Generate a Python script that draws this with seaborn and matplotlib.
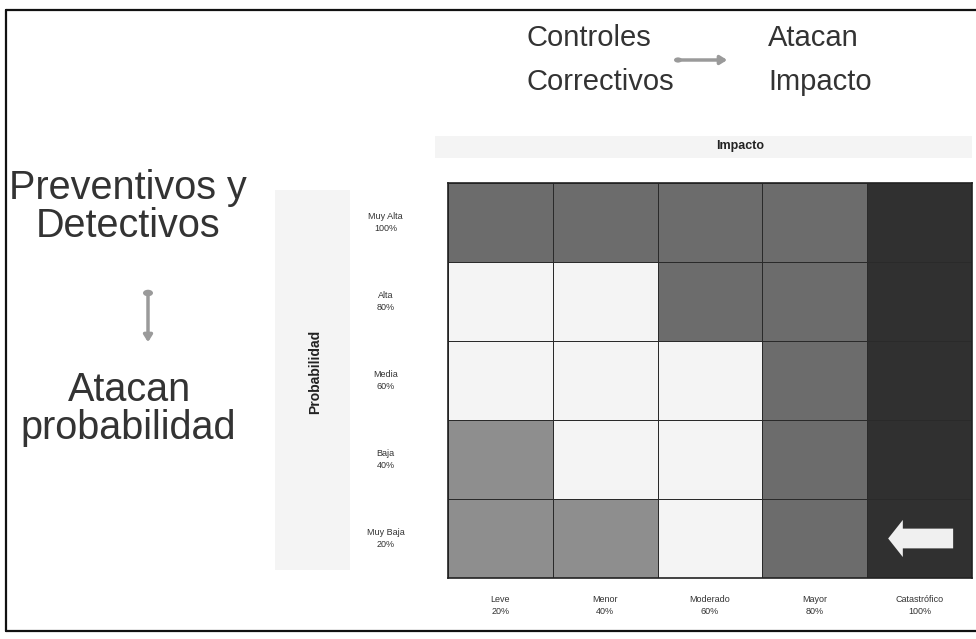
import numpy as np
import pandas as pd
import seaborn as sns
import matplotlib.pyplot as plt
from matplotlib import font_manager
from matplotlib.colors import ListedColormap
from matplotlib.patches import Rectangle, FancyArrow, FancyArrowPatch, Circle
from matplotlib.lines import Line2D

# Risk matrix: impact (columns) vs probability (rows)
impact_labels = ["Leve\n20%", "Menor\n40%", "Moderado\n60%", "Mayor\n80%", "Catastrófico\n100%"]
prob_labels = ["Muy Alta\n100%", "Alta\n80%", "Media\n60%", "Baja\n40%", "Muy Baja\n20%"]

# Risk level per cell (1 = bajo, 2 = moderado, 3 = alto, 4 = extremo)
row_muy_alta = [3, 3, 3, 3, 4]
row_alta = [2, 2, 3, 3, 4]
row_media = [2, 2, 2, 3, 4]
row_baja = [1, 2, 2, 3, 4]
row_muy_baja = [1, 1, 2, 3, 4]

level_colors = ["#8e8e8e", "#f4f4f4", "#6c6c6c", "#303030"]

risk = pd.DataFrame(
    [row_muy_alta, row_alta, row_media, row_baja, row_muy_baja],
    index=prob_labels, columns=impact_labels,
)

sns.set_theme(style="white")
plt.rcParams["font.family"] = ["Liberation Sans", "DejaVu Sans"]

installed = {f.name for f in font_manager.fontManager.ttflist}
if "Liberation Sans Narrow" in installed:
    narrow_family, narrow_size = ["Liberation Sans Narrow", "DejaVu Sans"], 25
else:
    narrow_family, narrow_size = ["Liberation Sans", "DejaVu Sans"], 21

W, H = 976, 639
fig = plt.figure(figsize=(W / 100, H / 100), dpi=100)
fig.patch.set_facecolor("white")


def fx(px):
    return px / W


def fy(py):
    return 1 - py / H


# light shaded bands behind the axis titles
fig.patches.append(Rectangle((fx(435), fy(158)), fx(972) - fx(435), fy(136) - fy(158),
                             transform=fig.transFigure, facecolor="#f4f4f4",
                             edgecolor="none", zorder=0))
fig.patches.append(Rectangle((fx(275), fy(570)), fx(350) - fx(275), fy(190) - fy(570),
                             transform=fig.transFigure, facecolor="#f4f4f4",
                             edgecolor="none", zorder=0))

# frame lines (left, top, bottom)
frame = dict(transform=fig.transFigure, color="#111111", linewidth=1.6, zorder=5)
fig.add_artist(Line2D([fx(6), fx(976)], [fy(10), fy(10)], **frame))
fig.add_artist(Line2D([fx(6), fx(976)], [fy(631), fy(631)], **frame))
fig.add_artist(Line2D([fx(6), fx(6)], [fy(10), fy(631)], **frame))

ax = fig.add_axes([fx(448), fy(578), fx(972) - fx(448), fy(183) - fy(578)])
cmap = ListedColormap(level_colors)
sns.heatmap(risk, ax=ax, cmap=cmap, vmin=0.5, vmax=4.5, cbar=False,
            linewidths=0.6, linecolor="#2a2a2a", square=False)
for s in ax.spines.values():
    s.set_visible(True)
    s.set_color("#222222")
    s.set_linewidth(1.2)

ax.set_xlabel("")
ax.set_ylabel("")
ax.tick_params(axis="both", length=0)
ax.tick_params(axis="y", pad=45)
ax.tick_params(axis="x", pad=12)
for t in ax.get_yticklabels():
    t.set_rotation(0)
    t.set_ha("center")
    t.set_va("center")
    t.set_fontsize(6.5)
    t.set_color("#333333")
    t.set_linespacing(1.5)
for t in ax.get_xticklabels():
    t.set_rotation(0)
    t.set_ha("center")
    t.set_fontsize(6.5)
    t.set_color("#333333")
    t.set_linespacing(1.5)

# arrow inside the catastrophic / very-low cell
ax.add_patch(FancyArrow(4.82, 4.5, -0.62, 0, width=0.25, head_width=0.47,
                        head_length=0.14, length_includes_head=True,
                        facecolor="#f0f0f0", edgecolor="none", zorder=4))

# axis titles
fig.text(fx(740), fy(146), "Impacto", ha="center", va="center",
         fontsize=9, fontweight="bold", color="#222222")
fig.text(fx(315), fy(372), "Probabilidad", ha="center", va="center",
         rotation=90, fontsize=10, fontweight="bold", color="#222222")

# headings
big = dict(fontsize=28.5, color="#333333", ha="center", va="center")
fig.text(fx(128), fy(188), "Preventivos y", **big)
fig.text(fx(128), fy(226), "Detectivos", **big)
fig.text(fx(130), fy(390), "Atacan", **big)
fig.text(fx(128), fy(428), "probabilidad", **big)

top = dict(fontsize=narrow_size, family=narrow_family, color="#333333",
           ha="left", va="center")
fig.text(fx(527), fy(38), "Controles", **top)
fig.text(fx(527), fy(82), "Correctivos", **top)
fig.text(fx(768), fy(38), "Atacan", **top)
fig.text(fx(768), fy(82), "Impacto", **top)

# connector arrows
fig.add_artist(FancyArrowPatch(
    (fx(676), fy(60)), (fx(730), fy(60)), transform=fig.transFigure,
    arrowstyle="-|>,head_length=4,head_width=2.5", color="#9a9a9a",
    linewidth=2.5))
fig.add_artist(Circle((fx(678), fy(60)), radius=4 / W, transform=fig.transFigure,
                      facecolor="#9a9a9a", edgecolor="none"))
fig.add_artist(FancyArrowPatch(
    (fx(148), fy(292)), (fx(148), fy(345)), transform=fig.transFigure,
    arrowstyle="-|>,head_length=4,head_width=2.5", color="#9a9a9a",
    linewidth=2.5))
fig.add_artist(Circle((fx(148), fy(293)), radius=5 / W, transform=fig.transFigure,
                      facecolor="#9a9a9a", edgecolor="none"))

fig.savefig("out.png", dpi=100)
